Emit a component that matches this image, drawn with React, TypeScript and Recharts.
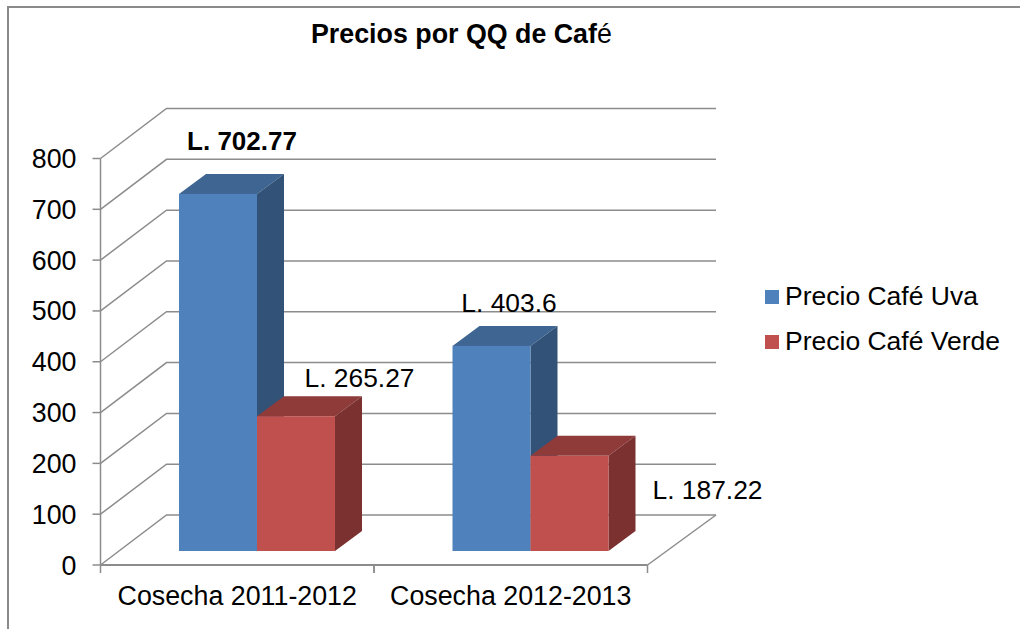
import { BarChart, Bar, XAxis, YAxis, CartesianGrid, Legend, LabelList } from 'recharts'

const categories = ['Cosecha 2011-2012', 'Cosecha 2012-2013']
const precioUva = [702.77, 403.6]
const precioVerde = [265.27, 187.22]
const yTicks = [0, 100, 200, 300, 400, 500, 600, 700, 800]

const data = categories.map((name, i) => ({ name, uva: precioUva[i], verde: precioVerde[i] }))

const FONT = '"Liberation Sans", Arial, sans-serif'
const LINE = '#8c8c8c'

// wall depth of the fake 3D box
const WALL_DX = 66
const WALL_DY = 50
const WALL_RIGHT = 68.5
const PLOT_BOTTOM = 565
const HALF_BAND = 136.75

// bars sit a bit inside the floor
const BAR_SHIFT_X = 20
const BAR_SHIFT_Y = -14
const BAR_DX = 27
const BAR_DY = 20

const GridLine = (props: any) => {
  const { x1, x2, y1 } = props
  const isFloor = y1 >= PLOT_BOTTOM - 1
  return (
    <g stroke={LINE} strokeWidth={1.5} fill="none">
      <polyline points={`${x1},${y1} ${x1 + WALL_DX},${y1 - WALL_DY} ${x2 + WALL_RIGHT},${y1 - WALL_DY}`} />
      {isFloor && <line x1={x2} y1={y1} x2={x2 + WALL_RIGHT} y2={y1 - WALL_DY} />}
    </g>
  )
}

// excel puts the x ticks between the categories, not under them
const CategoryTick = ({ x, y, payload }: any) => (
  <g>
    <line x1={x - HALF_BAND} y1={y - 16} x2={x - HALF_BAND} y2={y - 8} stroke={LINE} strokeWidth={1.5} />
    <line x1={x + HALF_BAND} y1={y - 16} x2={x + HALF_BAND} y2={y - 8} stroke={LINE} strokeWidth={1.5} />
    <text x={x} y={y + 24} textAnchor="middle" fontFamily={FONT} fontSize={26.8} fill="#000">
      {payload.value}
    </text>
  </g>
)

const Box3D = ({ x, y, width, height, fill, topFill, sideFill }: any) => {
  const l = x + BAR_SHIFT_X
  const r = l + width
  const t = y + BAR_SHIFT_Y
  const b = t + height
  return (
    <g>
      <path d={`M${l},${t} L${l + BAR_DX},${t - BAR_DY} L${r + BAR_DX},${t - BAR_DY} L${r},${t} Z`} fill={topFill} />
      <path d={`M${r},${t} L${r + BAR_DX},${t - BAR_DY} L${r + BAR_DX},${b - BAR_DY} L${r},${b} Z`} fill={sideFill} />
      <rect x={l} y={t} width={width} height={height} fill={fill} />
    </g>
  )
}

const makeLabel = (offsets: number[][], boldFirst: boolean) => (props: any) => {
  const { x, y, width, value, index } = props
  const [dx, dy] = offsets[index]
  const bold = boldFirst && index === 0
  return (
    <text
      x={x + width / 2 + dx}
      y={y + dy}
      textAnchor="middle"
      fontFamily={FONT}
      fontSize={bold ? 26 : 26.4}
      fontWeight={bold ? 'bold' : 'normal'}
      fill="#000"
    >
      {`L. ${value}`}
    </text>
  )
}

const LegendBox = ({ payload }: any) => (
  <div style={{ fontFamily: FONT, fontSize: 26.5, color: '#000' }}>
    {(payload ?? []).map((p: any) => (
      <div key={p.value} style={{ display: 'flex', alignItems: 'center', height: 45, whiteSpace: 'nowrap' }}>
        <span style={{ width: 14, height: 14, background: p.color, marginRight: 6 }} />
        {p.value}
      </div>
    ))}
  </div>
)

export default function App() {
  return (
    <div style={{ position: 'absolute', left: 0, top: 0, width: 1020, height: 629, background: '#fff', overflow: 'hidden' }}>
      <div style={{ position: 'absolute', left: 6.5, top: 5.5, right: -5, bottom: -5, borderLeft: '2px solid #8a8a8a', borderTop: '2px solid #8a8a8a' }} />
      <div style={{ position: 'absolute', left: 311, top: 18, fontFamily: FONT, fontSize: 26.8, fontWeight: 'bold', whiteSpace: 'nowrap', lineHeight: '32px' }}>
        Precios por QQ de Caf<span style={{ fontWeight: 'normal' }}>é</span>
      </div>
      <BarChart
        width={1020}
        height={629}
        data={data}
        margin={{ top: 158.5, right: 372.5, bottom: 0, left: 0 }}
        barCategoryGap={58.5}
        barGap={0}
        style={{ position: 'absolute', left: 0, top: 0 }}
      >
        <CartesianGrid vertical={false} horizontal={(p: any) => <GridLine key={p.key} {...p} />} />
        <XAxis
          dataKey="name"
          height={64}
          interval={0}
          tickSize={8}
          tickMargin={8}
          axisLine={{ stroke: LINE, strokeWidth: 2 }}
          tickLine={false}
          tick={<CategoryTick />}
        />
        <YAxis
          width={100.5}
          domain={[0, 800]}
          ticks={yTicks}
          interval={0}
          tickSize={8}
          tickMargin={16}
          axisLine={{ stroke: LINE, strokeWidth: 1.5 }}
          tickLine={{ stroke: LINE, strokeWidth: 1.5 }}
          tick={{ fill: '#000', fontSize: 26.8, fontFamily: FONT }}
        />
        <Legend
          layout="vertical"
          align="center"
          verticalAlign="middle"
          content={<LegendBox />}
          wrapperStyle={{ left: 765, top: 274, width: 250, bottom: 'auto', right: 'auto' }}
        />
        <Bar
          dataKey="uva"
          name="Precio Café Uva"
          fill="#4F81BD"
          isAnimationActive={false}
          shape={(p: any) => <Box3D {...p} topFill="#3F6592" sideFill="#325278" />}
        >
          <LabelList dataKey="uva" content={makeLabel([[44, -58], [37.5, -48]], true)} />
        </Bar>
        <Bar
          dataKey="verde"
          name="Precio Café Verde"
          fill="#C0504D"
          isAnimationActive={false}
          shape={(p: any) => <Box3D {...p} topFill="#8E3B39" sideFill="#7A312F" />}
        >
          <LabelList dataKey="verde" content={makeLabel([[83.5, -43], [158, 29]], false)} />
        </Bar>
      </BarChart>
    </div>
  )
}
